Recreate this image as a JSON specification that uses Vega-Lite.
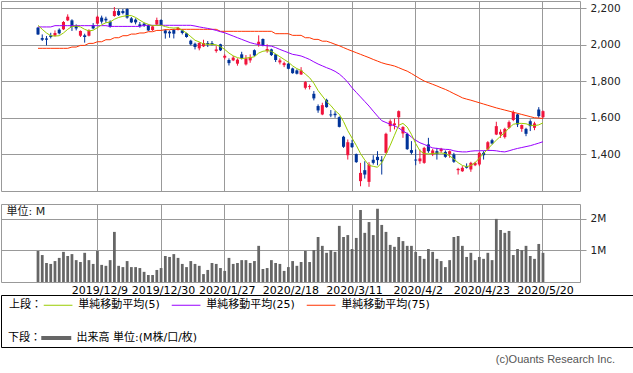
{
"$schema": "https://vega.github.io/schema/vega-lite/v6.json",
"padding": 0,
"background": "white",
"config": {
  "view": {"stroke": "#999999", "strokeWidth": 1},
  "axis": {"labelFont": "DejaVu Sans", "labelColor": "#222222", "gridColor": "#999999", "gridWidth": 1, "tickColor": "#999999", "domain": false, "title": null},
  "legend": {"labelFont": "DejaVu Sans, Noto Sans CJK JP", "titleFont": "DejaVu Sans, Noto Sans CJK JP", "labelFontSize": 11, "titleFontSize": 11, "titleFontWeight": "normal", "labelColor": "#000000", "titleColor": "#000000", "padding": 0}
},
"data": {"values": [
{"date":"2019/11/19","open":2094,"high":2098,"low":2054,"close":2057,"volume":980000,"ma5":2107,"ma25":2098,"ma75":1981},
{"date":"2019/11/20","open":2037,"high":2057,"low":2021,"close":2028,"volume":850000,"ma5":2085,"ma25":2098,"ma75":1981},
{"date":"2019/11/21","open":2035,"high":2048,"low":1997,"close":2028,"volume":600000,"ma5":2065,"ma25":2098,"ma75":1981},
{"date":"2019/11/22","open":2052,"high":2066,"low":2035,"close":2043,"volume":570000,"ma5":2050,"ma25":2098,"ma75":1981},
{"date":"2019/11/25","open":2050,"high":2079,"low":2046,"close":2065,"volume":660000,"ma5":2048,"ma25":2105,"ma75":1981},
{"date":"2019/11/26","open":2083,"high":2090,"low":2057,"close":2063,"volume":760000,"ma5":2050,"ma25":2105,"ma75":1981},
{"date":"2019/11/27","open":2085,"high":2130,"low":2081,"close":2125,"volume":950000,"ma5":2065,"ma25":2105,"ma75":1981},
{"date":"2019/11/28","open":2134,"high":2167,"low":2130,"close":2154,"volume":820000,"ma5":2085,"ma25":2105,"ma75":1981},
{"date":"2019/11/29","open":2134,"high":2140,"low":2076,"close":2098,"volume":880000,"ma5":2100,"ma25":2105,"ma75":1988},
{"date":"2019/12/2","open":2105,"high":2112,"low":2079,"close":2090,"volume":690000,"ma5":2103,"ma25":2105,"ma75":1988},
{"date":"2019/12/3","open":2050,"high":2079,"low":2043,"close":2076,"volume":630000,"ma5":2098,"ma25":2105,"ma75":1997},
{"date":"2019/12/4","open":2052,"high":2061,"low":2012,"close":2043,"volume":920000,"ma5":2085,"ma25":2105,"ma75":1997},
{"date":"2019/12/5","open":2050,"high":2085,"low":2046,"close":2079,"volume":690000,"ma5":2076,"ma25":2105,"ma75":2008},
{"date":"2019/12/6","open":2108,"high":2119,"low":2085,"close":2090,"volume":570000,"ma5":2080,"ma25":2105,"ma75":2008},
{"date":"2019/12/9","open":2116,"high":2160,"low":2112,"close":2154,"volume":980000,"ma5":2094,"ma25":2105,"ma75":2017},
{"date":"2019/12/10","open":2149,"high":2160,"low":2116,"close":2127,"volume":540000,"ma5":2110,"ma25":2105,"ma75":2017},
{"date":"2019/12/11","open":2143,"high":2154,"low":2121,"close":2134,"volume":510000,"ma5":2121,"ma25":2105,"ma75":2028},
{"date":"2019/12/12","open":2127,"high":2134,"low":2094,"close":2098,"volume":690000,"ma5":2125,"ma25":2101,"ma75":2028},
{"date":"2019/12/13","open":2158,"high":2207,"low":2154,"close":2185,"volume":1580000,"ma5":2140,"ma25":2101,"ma75":2039},
{"date":"2019/12/16","open":2185,"high":2196,"low":2158,"close":2163,"volume":510000,"ma5":2150,"ma25":2101,"ma75":2039},
{"date":"2019/12/17","open":2185,"high":2196,"low":2167,"close":2174,"volume":470000,"ma5":2156,"ma25":2101,"ma75":2050},
{"date":"2019/12/18","open":2196,"high":2200,"low":2143,"close":2149,"volume":660000,"ma5":2160,"ma25":2101,"ma75":2050},
{"date":"2019/12/19","open":2145,"high":2152,"low":2119,"close":2123,"volume":470000,"ma5":2160,"ma25":2101,"ma75":2059},
{"date":"2019/12/20","open":2138,"high":2145,"low":2112,"close":2123,"volume":470000,"ma5":2150,"ma25":2101,"ma75":2059},
{"date":"2019/12/23","open":2112,"high":2125,"low":2094,"close":2103,"volume":440000,"ma5":2135,"ma25":2101,"ma75":2065},
{"date":"2019/12/24","open":2116,"high":2121,"low":2098,"close":2105,"volume":320000,"ma5":2121,"ma25":2107,"ma75":2065},
{"date":"2019/12/25","open":2107,"high":2112,"low":2076,"close":2079,"volume":220000,"ma5":2112,"ma25":2107,"ma75":2072},
{"date":"2019/12/26","open":2081,"high":2108,"low":2076,"close":2101,"volume":220000,"ma5":2105,"ma25":2107,"ma75":2072},
{"date":"2019/12/27","open":2112,"high":2149,"low":2108,"close":2136,"volume":380000,"ma5":2107,"ma25":2107,"ma75":2079},
{"date":"2019/12/30","open":2136,"high":2140,"low":2103,"close":2108,"volume":440000,"ma5":2107,"ma25":2107,"ma75":2079},
{"date":"2020/1/6","open":2079,"high":2085,"low":2034,"close":2063,"volume":820000,"ma5":2100,"ma25":2107,"ma75":2083},
{"date":"2020/1/7","open":2072,"high":2079,"low":2039,"close":2063,"volume":790000,"ma5":2094,"ma25":2107,"ma75":2083},
{"date":"2020/1/8","open":2081,"high":2087,"low":2035,"close":2061,"volume":880000,"ma5":2092,"ma25":2107,"ma75":2085},
{"date":"2020/1/9","open":2083,"high":2098,"low":2079,"close":2094,"volume":760000,"ma5":2094,"ma25":2107,"ma75":2085},
{"date":"2020/1/10","open":2079,"high":2085,"low":2057,"close":2065,"volume":570000,"ma5":2080,"ma25":2107,"ma75":2085},
{"date":"2020/1/14","open":2063,"high":2066,"low":2039,"close":2043,"volume":470000,"ma5":2065,"ma25":2107,"ma75":2085},
{"date":"2020/1/15","open":2023,"high":2028,"low":1997,"close":2003,"volume":660000,"ma5":2045,"ma25":2107,"ma75":2085},
{"date":"2020/1/16","open":2006,"high":2012,"low":1975,"close":1988,"volume":570000,"ma5":2025,"ma25":2103,"ma75":2085},
{"date":"2020/1/17","open":1981,"high":2015,"low":1970,"close":2010,"volume":510000,"ma5":2016,"ma25":2098,"ma75":2085},
{"date":"2020/1/20","open":1992,"high":2028,"low":1988,"close":2010,"volume":250000,"ma5":2005,"ma25":2094,"ma75":2085},
{"date":"2020/1/21","open":2010,"high":2021,"low":1988,"close":2003,"volume":380000,"ma5":2003,"ma25":2090,"ma75":2085},
{"date":"2020/1/22","open":2010,"high":2021,"low":1997,"close":2003,"volume":600000,"ma5":2003,"ma25":2085,"ma75":2085},
{"date":"2020/1/23","open":1966,"high":1993,"low":1957,"close":1975,"volume":570000,"ma5":2000,"ma25":2079,"ma75":2085},
{"date":"2020/1/24","open":2003,"high":2006,"low":1966,"close":1970,"volume":440000,"ma5":1990,"ma25":2072,"ma75":2074},
{"date":"2020/1/27","open":1930,"high":1948,"low":1920,"close":1940,"volume":350000,"ma5":1975,"ma25":2066,"ma75":2074},
{"date":"2020/1/28","open":1917,"high":1926,"low":1887,"close":1900,"volume":760000,"ma5":1955,"ma25":2057,"ma75":2074},
{"date":"2020/1/29","open":1915,"high":1939,"low":1911,"close":1930,"volume":570000,"ma5":1940,"ma25":2048,"ma75":2074},
{"date":"2020/1/30","open":1897,"high":1926,"low":1886,"close":1919,"volume":600000,"ma5":1930,"ma25":2039,"ma75":2074},
{"date":"2020/1/31","open":1948,"high":1962,"low":1920,"close":1926,"volume":690000,"ma5":1925,"ma25":2030,"ma75":2074},
{"date":"2020/2/3","open":1893,"high":1944,"low":1887,"close":1926,"volume":690000,"ma5":1928,"ma25":2021,"ma75":2074},
{"date":"2020/2/4","open":1915,"high":1948,"low":1902,"close":1933,"volume":600000,"ma5":1930,"ma25":2012,"ma75":2074},
{"date":"2020/2/5","open":1971,"high":1975,"low":1937,"close":1942,"volume":660000,"ma5":1935,"ma25":2006,"ma75":2074},
{"date":"2020/2/6","open":2003,"high":2052,"low":1990,"close":2017,"volume":1140000,"ma5":1955,"ma25":2001,"ma75":2074},
{"date":"2020/2/7","open":2032,"high":2035,"low":1992,"close":1997,"volume":410000,"ma5":1965,"ma25":1997,"ma75":2074},
{"date":"2020/2/10","open":1966,"high":2003,"low":1957,"close":1977,"volume":440000,"ma5":1968,"ma25":1995,"ma75":2074},
{"date":"2020/2/12","open":1975,"high":1979,"low":1939,"close":1944,"volume":690000,"ma5":1965,"ma25":1993,"ma75":2074},
{"date":"2020/2/13","open":1948,"high":1951,"low":1906,"close":1917,"volume":600000,"ma5":1950,"ma25":1985,"ma75":2061},
{"date":"2020/2/14","open":1904,"high":1926,"low":1893,"close":1915,"volume":570000,"ma5":1935,"ma25":1975,"ma75":2061},
{"date":"2020/2/17","open":1889,"high":1908,"low":1878,"close":1900,"volume":350000,"ma5":1920,"ma25":1966,"ma75":2061},
{"date":"2020/2/18","open":1897,"high":1902,"low":1866,"close":1869,"volume":470000,"ma5":1905,"ma25":1957,"ma75":2061},
{"date":"2020/2/19","open":1871,"high":1875,"low":1842,"close":1845,"volume":660000,"ma5":1885,"ma25":1948,"ma75":2052},
{"date":"2020/2/20","open":1860,"high":1866,"low":1838,"close":1842,"volume":510000,"ma5":1870,"ma25":1944,"ma75":2052},
{"date":"2020/2/21","open":1838,"high":1878,"low":1835,"close":1860,"volume":630000,"ma5":1860,"ma25":1939,"ma75":2052},
{"date":"2020/2/25","open":1765,"high":1802,"low":1756,"close":1796,"volume":980000,"ma5":1840,"ma25":1930,"ma75":2039},
{"date":"2020/2/26","open":1769,"high":1783,"low":1756,"close":1774,"volume":630000,"ma5":1820,"ma25":1920,"ma75":2039},
{"date":"2020/2/27","open":1732,"high":1747,"low":1696,"close":1707,"volume":1010000,"ma5":1790,"ma25":1907,"ma75":2030},
{"date":"2020/2/28","open":1665,"high":1674,"low":1628,"close":1641,"volume":1420000,"ma5":1750,"ma25":1895,"ma75":2030},
{"date":"2020/3/2","open":1619,"high":1683,"low":1615,"close":1670,"volume":1140000,"ma5":1720,"ma25":1885,"ma75":2020},
{"date":"2020/3/3","open":1699,"high":1705,"low":1656,"close":1659,"volume":920000,"ma5":1690,"ma25":1875,"ma75":2020},
{"date":"2020/3/4","open":1619,"high":1643,"low":1604,"close":1614,"volume":1010000,"ma5":1668,"ma25":1866,"ma75":2012},
{"date":"2020/3/5","open":1623,"high":1637,"low":1601,"close":1615,"volume":950000,"ma5":1640,"ma25":1855,"ma75":2003},
{"date":"2020/3/6","open":1604,"high":1608,"low":1548,"close":1551,"volume":1770000,"ma5":1620,"ma25":1840,"ma75":1995},
{"date":"2020/3/9","open":1497,"high":1502,"low":1436,"close":1442,"volume":1420000,"ma5":1580,"ma25":1820,"ma75":1985},
{"date":"2020/3/10","open":1396,"high":1482,"low":1372,"close":1467,"volume":1480000,"ma5":1530,"ma25":1795,"ma75":1975},
{"date":"2020/3/11","open":1462,"high":1480,"low":1436,"close":1440,"volume":1040000,"ma5":1490,"ma25":1765,"ma75":1966},
{"date":"2020/3/12","open":1402,"high":1405,"low":1354,"close":1358,"volume":1390000,"ma5":1450,"ma25":1740,"ma75":1957},
{"date":"2020/3/13","open":1254,"high":1354,"low":1226,"close":1299,"volume":2270000,"ma5":1405,"ma25":1715,"ma75":1948},
{"date":"2020/3/16","open":1314,"high":1363,"low":1268,"close":1290,"volume":1550000,"ma5":1370,"ma25":1690,"ma75":1939},
{"date":"2020/3/17","open":1250,"high":1358,"low":1223,"close":1345,"volume":1890000,"ma5":1340,"ma25":1665,"ma75":1930},
{"date":"2020/3/18","open":1371,"high":1396,"low":1345,"close":1354,"volume":1480000,"ma5":1335,"ma25":1637,"ma75":1920},
{"date":"2020/3/19","open":1387,"high":1418,"low":1341,"close":1369,"volume":2310000,"ma5":1330,"ma25":1610,"ma75":1911},
{"date":"2020/3/23","open":1371,"high":1391,"low":1290,"close":1363,"volume":1800000,"ma5":1355,"ma25":1585,"ma75":1902},
{"date":"2020/3/24","open":1409,"high":1519,"low":1405,"close":1513,"volume":1580000,"ma5":1400,"ma25":1575,"ma75":1895},
{"date":"2020/3/25","open":1555,"high":1592,"low":1524,"close":1582,"volume":1170000,"ma5":1450,"ma25":1565,"ma75":1890},
{"date":"2020/3/26","open":1561,"high":1597,"low":1537,"close":1570,"volume":1110000,"ma5":1505,"ma25":1557,"ma75":1884},
{"date":"2020/3/27","open":1604,"high":1641,"low":1550,"close":1637,"volume":1420000,"ma5":1560,"ma25":1545,"ma75":1875},
{"date":"2020/3/30","open":1515,"high":1555,"low":1491,"close":1550,"volume":1290000,"ma5":1570,"ma25":1528,"ma75":1865},
{"date":"2020/3/31","open":1513,"high":1519,"low":1425,"close":1429,"volume":1140000,"ma5":1550,"ma25":1515,"ma75":1856},
{"date":"2020/4/1","open":1424,"high":1473,"low":1400,"close":1409,"volume":1140000,"ma5":1510,"ma25":1495,"ma75":1843},
{"date":"2020/4/2","open":1372,"high":1427,"low":1341,"close":1367,"volume":950000,"ma5":1460,"ma25":1478,"ma75":1829},
{"date":"2020/4/3","open":1363,"high":1427,"low":1349,"close":1378,"volume":820000,"ma5":1420,"ma25":1464,"ma75":1815},
{"date":"2020/4/6","open":1354,"high":1442,"low":1349,"close":1436,"volume":730000,"ma5":1405,"ma25":1455,"ma75":1802},
{"date":"2020/4/7","open":1455,"high":1491,"low":1409,"close":1418,"volume":1040000,"ma5":1403,"ma25":1445,"ma75":1793},
{"date":"2020/4/8","open":1400,"high":1431,"low":1391,"close":1422,"volume":950000,"ma5":1405,"ma25":1436,"ma75":1784},
{"date":"2020/4/9","open":1418,"high":1436,"low":1372,"close":1403,"volume":730000,"ma5":1407,"ma25":1433,"ma75":1775},
{"date":"2020/4/10","open":1418,"high":1436,"low":1409,"close":1431,"volume":660000,"ma5":1408,"ma25":1430,"ma75":1765},
{"date":"2020/4/13","open":1414,"high":1422,"low":1382,"close":1387,"volume":470000,"ma5":1405,"ma25":1428,"ma75":1756},
{"date":"2020/4/14","open":1403,"high":1422,"low":1382,"close":1418,"volume":690000,"ma5":1392,"ma25":1427,"ma75":1745},
{"date":"2020/4/15","open":1400,"high":1409,"low":1354,"close":1360,"volume":1420000,"ma5":1375,"ma25":1420,"ma75":1733},
{"date":"2020/4/16","open":1314,"high":1327,"low":1290,"close":1321,"volume":1450000,"ma5":1355,"ma25":1416,"ma75":1722},
{"date":"2020/4/17","open":1308,"high":1336,"low":1305,"close":1327,"volume":1140000,"ma5":1340,"ma25":1414,"ma75":1710},
{"date":"2020/4/20","open":1336,"high":1351,"low":1323,"close":1327,"volume":790000,"ma5":1333,"ma25":1414,"ma75":1703},
{"date":"2020/4/21","open":1318,"high":1360,"low":1305,"close":1354,"volume":920000,"ma5":1340,"ma25":1418,"ma75":1697},
{"date":"2020/4/22","open":1341,"high":1360,"low":1336,"close":1354,"volume":690000,"ma5":1355,"ma25":1420,"ma75":1690},
{"date":"2020/4/23","open":1345,"high":1413,"low":1336,"close":1409,"volume":790000,"ma5":1380,"ma25":1420,"ma75":1683},
{"date":"2020/4/24","open":1409,"high":1418,"low":1372,"close":1396,"volume":730000,"ma5":1405,"ma25":1421,"ma75":1676},
{"date":"2020/4/27","open":1427,"high":1473,"low":1424,"close":1467,"volume":920000,"ma5":1430,"ma25":1422,"ma75":1669},
{"date":"2020/4/28","open":1478,"high":1486,"low":1455,"close":1460,"volume":690000,"ma5":1455,"ma25":1422,"ma75":1662},
{"date":"2020/4/30","open":1509,"high":1579,"low":1506,"close":1555,"volume":1990000,"ma5":1478,"ma25":1420,"ma75":1655},
{"date":"2020/5/1","open":1509,"high":1537,"low":1491,"close":1524,"volume":1640000,"ma5":1500,"ma25":1416,"ma75":1649},
{"date":"2020/5/7","open":1495,"high":1546,"low":1487,"close":1540,"volume":1550000,"ma5":1520,"ma25":1414,"ma75":1643},
{"date":"2020/5/8","open":1546,"high":1586,"low":1540,"close":1577,"volume":1610000,"ma5":1545,"ma25":1420,"ma75":1637},
{"date":"2020/5/11","open":1588,"high":1641,"low":1582,"close":1632,"volume":850000,"ma5":1565,"ma25":1427,"ma75":1631},
{"date":"2020/5/12","open":1619,"high":1623,"low":1550,"close":1564,"volume":1040000,"ma5":1570,"ma25":1433,"ma75":1625},
{"date":"2020/5/13","open":1540,"high":1564,"low":1524,"close":1561,"volume":1010000,"ma5":1570,"ma25":1438,"ma75":1619},
{"date":"2020/5/14","open":1540,"high":1546,"low":1500,"close":1513,"volume":1140000,"ma5":1568,"ma25":1443,"ma75":1613},
{"date":"2020/5/15","open":1582,"high":1592,"low":1528,"close":1555,"volume":820000,"ma5":1560,"ma25":1448,"ma75":1607},
{"date":"2020/5/18","open":1546,"high":1579,"low":1533,"close":1570,"volume":730000,"ma5":1558,"ma25":1455,"ma75":1601},
{"date":"2020/5/19","open":1646,"high":1659,"low":1601,"close":1610,"volume":1200000,"ma5":1562,"ma25":1462,"ma75":1599},
{"date":"2020/5/20","open":1604,"high":1641,"low":1597,"close":1637,"volume":920000,"ma5":1573,"ma25":1470,"ma75":1597}
]},
"vconcat": [
  {
    "width": 579,
    "height": 190,
    "encoding": {
      "x": {"field": "date", "type": "ordinal",
            "scale": {"type": "band", "paddingInner": 0, "paddingOuter": 0.22, "domain": ["L1","L2","L3","L4","L5","L6","L7","L8",
"2019/11/19","2019/11/20","2019/11/21","2019/11/22","2019/11/25","2019/11/26","2019/11/27","2019/11/28","2019/11/29",
"2019/12/2","2019/12/3","2019/12/4","2019/12/5","2019/12/6","2019/12/9","2019/12/10","2019/12/11","2019/12/12","2019/12/13",
"2019/12/16","2019/12/17","2019/12/18","2019/12/19","2019/12/20","2019/12/23","2019/12/24","2019/12/25","2019/12/26","2019/12/27","2019/12/30",
"2020/1/6","2020/1/7","2020/1/8","2020/1/9","2020/1/10","2020/1/14","2020/1/15","2020/1/16","2020/1/17",
"2020/1/20","2020/1/21","2020/1/22","2020/1/23","2020/1/24","2020/1/27","2020/1/28","2020/1/29","2020/1/30","2020/1/31",
"2020/2/3","2020/2/4","2020/2/5","2020/2/6","2020/2/7","2020/2/10","2020/2/12","2020/2/13","2020/2/14",
"2020/2/17","2020/2/18","2020/2/19","2020/2/20","2020/2/21","2020/2/25","2020/2/26","2020/2/27","2020/2/28",
"2020/3/2","2020/3/3","2020/3/4","2020/3/5","2020/3/6","2020/3/9","2020/3/10","2020/3/11","2020/3/12","2020/3/13",
"2020/3/16","2020/3/17","2020/3/18","2020/3/19","2020/3/23","2020/3/24","2020/3/25","2020/3/26","2020/3/27","2020/3/30","2020/3/31",
"2020/4/1","2020/4/2","2020/4/3","2020/4/6","2020/4/7","2020/4/8","2020/4/9","2020/4/10","2020/4/13","2020/4/14","2020/4/15","2020/4/16","2020/4/17",
"2020/4/20","2020/4/21","2020/4/22","2020/4/23","2020/4/24","2020/4/27","2020/4/28","2020/4/30",
"2020/5/1","2020/5/7","2020/5/8","2020/5/11","2020/5/12","2020/5/13","2020/5/14","2020/5/15","2020/5/18","2020/5/19","2020/5/20",
"R1","R2","R3","R4","R5","R6","R7","R8"]},
            "axis": {"values": ["2019/12/9","2019/12/30","2020/1/27","2020/2/18","2020/3/11","2020/4/2","2020/4/23","2020/5/20"],
                     "labels": false, "ticks": false, "grid": true, "bandPosition": 0.5}}
    },
    "layer": [
      {"mark": {"type": "rule", "strokeWidth": 1},
       "encoding": {
         "y": {"field": "low", "type": "quantitative",
               "scale": {"domain": [1200, 2240], "nice": false, "zero": false},
               "axis": {"orient": "right", "values": [1400, 1600, 1800, 2000, 2200], "format": ",.0f", "grid": true, "ticks": true, "tickSize": 6, "labelFontSize": 10.5, "labelPadding": 4}},
         "y2": {"field": "high"},
         "color": {"condition": {"test": "datum.close >= datum.open", "value": "#f0143c"}, "value": "#003399"}
       }},
      {"mark": {"type": "bar", "width": {"band": 0.72}},
       "encoding": {
         "y": {"field": "open", "type": "quantitative"},
         "y2": {"field": "close"},
         "color": {"condition": {"test": "datum.close >= datum.open", "value": "#f0143c"}, "value": "#003399"}
       }},
      {"mark": {"type": "line", "strokeWidth": 1},
       "encoding": {
         "y": {"field": "ma75", "type": "quantitative"},
         "stroke": {"datum": "単純移動平均(75)", "type": "nominal",
                    "scale": {"domain": ["単純移動平均(5)", "単純移動平均(25)", "単純移動平均(75)"], "range": ["#99cc00", "#9900ff", "#ff3300"]},
                    "legend": {"orient": "none", "legendX": 8, "legendY": 297.5, "direction": "horizontal", "title": "上段：", "titleOrient": "left", "titlePadding": 1, "symbolType": "M-2.5,0H2.5", "symbolSize": 132, "symbolOffset": 8.6, "symbolStrokeWidth": 1, "labelOffset": 13.6, "columnPadding": 9}}
       }},
      {"mark": {"type": "line", "strokeWidth": 1},
       "encoding": {
         "y": {"field": "ma25", "type": "quantitative"},
         "stroke": {"datum": "単純移動平均(25)", "type": "nominal"}
       }},
      {"mark": {"type": "line", "strokeWidth": 1},
       "encoding": {
         "y": {"field": "ma5", "type": "quantitative"},
         "stroke": {"datum": "単純移動平均(5)", "type": "nominal"}
       }}
    ]
  },
  {
    "width": 579,
    "height": 78,
    "mark": {"type": "bar", "width": {"band": 0.65}},
    "encoding": {
      "x": {"field": "date", "type": "ordinal",
            "scale": {"type": "band", "paddingInner": 0, "paddingOuter": 0.22, "domain": ["L1","L2","L3","L4","L5","L6","L7","L8",
"2019/11/19","2019/11/20","2019/11/21","2019/11/22","2019/11/25","2019/11/26","2019/11/27","2019/11/28","2019/11/29",
"2019/12/2","2019/12/3","2019/12/4","2019/12/5","2019/12/6","2019/12/9","2019/12/10","2019/12/11","2019/12/12","2019/12/13",
"2019/12/16","2019/12/17","2019/12/18","2019/12/19","2019/12/20","2019/12/23","2019/12/24","2019/12/25","2019/12/26","2019/12/27","2019/12/30",
"2020/1/6","2020/1/7","2020/1/8","2020/1/9","2020/1/10","2020/1/14","2020/1/15","2020/1/16","2020/1/17",
"2020/1/20","2020/1/21","2020/1/22","2020/1/23","2020/1/24","2020/1/27","2020/1/28","2020/1/29","2020/1/30","2020/1/31",
"2020/2/3","2020/2/4","2020/2/5","2020/2/6","2020/2/7","2020/2/10","2020/2/12","2020/2/13","2020/2/14",
"2020/2/17","2020/2/18","2020/2/19","2020/2/20","2020/2/21","2020/2/25","2020/2/26","2020/2/27","2020/2/28",
"2020/3/2","2020/3/3","2020/3/4","2020/3/5","2020/3/6","2020/3/9","2020/3/10","2020/3/11","2020/3/12","2020/3/13",
"2020/3/16","2020/3/17","2020/3/18","2020/3/19","2020/3/23","2020/3/24","2020/3/25","2020/3/26","2020/3/27","2020/3/30","2020/3/31",
"2020/4/1","2020/4/2","2020/4/3","2020/4/6","2020/4/7","2020/4/8","2020/4/9","2020/4/10","2020/4/13","2020/4/14","2020/4/15","2020/4/16","2020/4/17",
"2020/4/20","2020/4/21","2020/4/22","2020/4/23","2020/4/24","2020/4/27","2020/4/28","2020/4/30",
"2020/5/1","2020/5/7","2020/5/8","2020/5/11","2020/5/12","2020/5/13","2020/5/14","2020/5/15","2020/5/18","2020/5/19","2020/5/20",
"R1","R2","R3","R4","R5","R6","R7","R8"]},
            "axis": {"values": ["2019/12/9","2019/12/30","2020/1/27","2020/2/18","2020/3/11","2020/4/2","2020/4/23","2020/5/20"],
                     "labels": true, "ticks": false, "grid": true, "bandPosition": 0.5, "labelFontSize": 11, "labelPadding": 2, "labelOffset": 2.5, "labelAngle": 0, "labelOverlap": false, "labelColor": "#000000"}},
      "y": {"field": "volume", "type": "quantitative",
            "scale": {"domain": [0, 2460000], "nice": false},
            "axis": {"orient": "right", "values": [1000000, 2000000], "format": "~s", "grid": true, "tickSize": 6, "labelFontSize": 10.5, "labelPadding": 4,
                     "title": "単位: M", "titleAngle": 0, "titleX": -574, "titleY": 10, "titleAlign": "left", "titleBaseline": "alphabetic", "titleFontSize": 11, "titleFontWeight": "normal", "titleFont": "DejaVu Sans, Noto Sans CJK JP", "titleColor": "#222222"}},
      "color": {"datum": "出来高 単位:(M株/口/枚)", "type": "nominal",
                "scale": {"range": ["#666666"]},
                "legend": {"orient": "none", "legendX": 7, "legendY": 331, "direction": "horizontal", "title": "下段：", "titleOrient": "left", "titlePadding": 0, "symbolType": "M-2.61,-0.35H2.61V0.35H-2.61Z", "symbolSize": 132, "symbolOffset": 9.26, "symbolStrokeWidth": 0, "labelOffset": 14.2}}
    }
  },
  {
    "width": 632,
    "height": 52,
    "data": {"values": []},
    "mark": "rect",
    "encoding": {},
    "view": {"stroke": "#000000", "strokeWidth": 1},
    "title": {"text": "(c)Ouants Research Inc.", "orient": "bottom", "anchor": "end", "frame": "group", "offset": 7, "dx": -18, "fontSize": 11, "fontWeight": "normal", "font": "Liberation Sans", "color": "#555555"}
  }
],
"spacing": 13,
"bounds": "flush"
}
